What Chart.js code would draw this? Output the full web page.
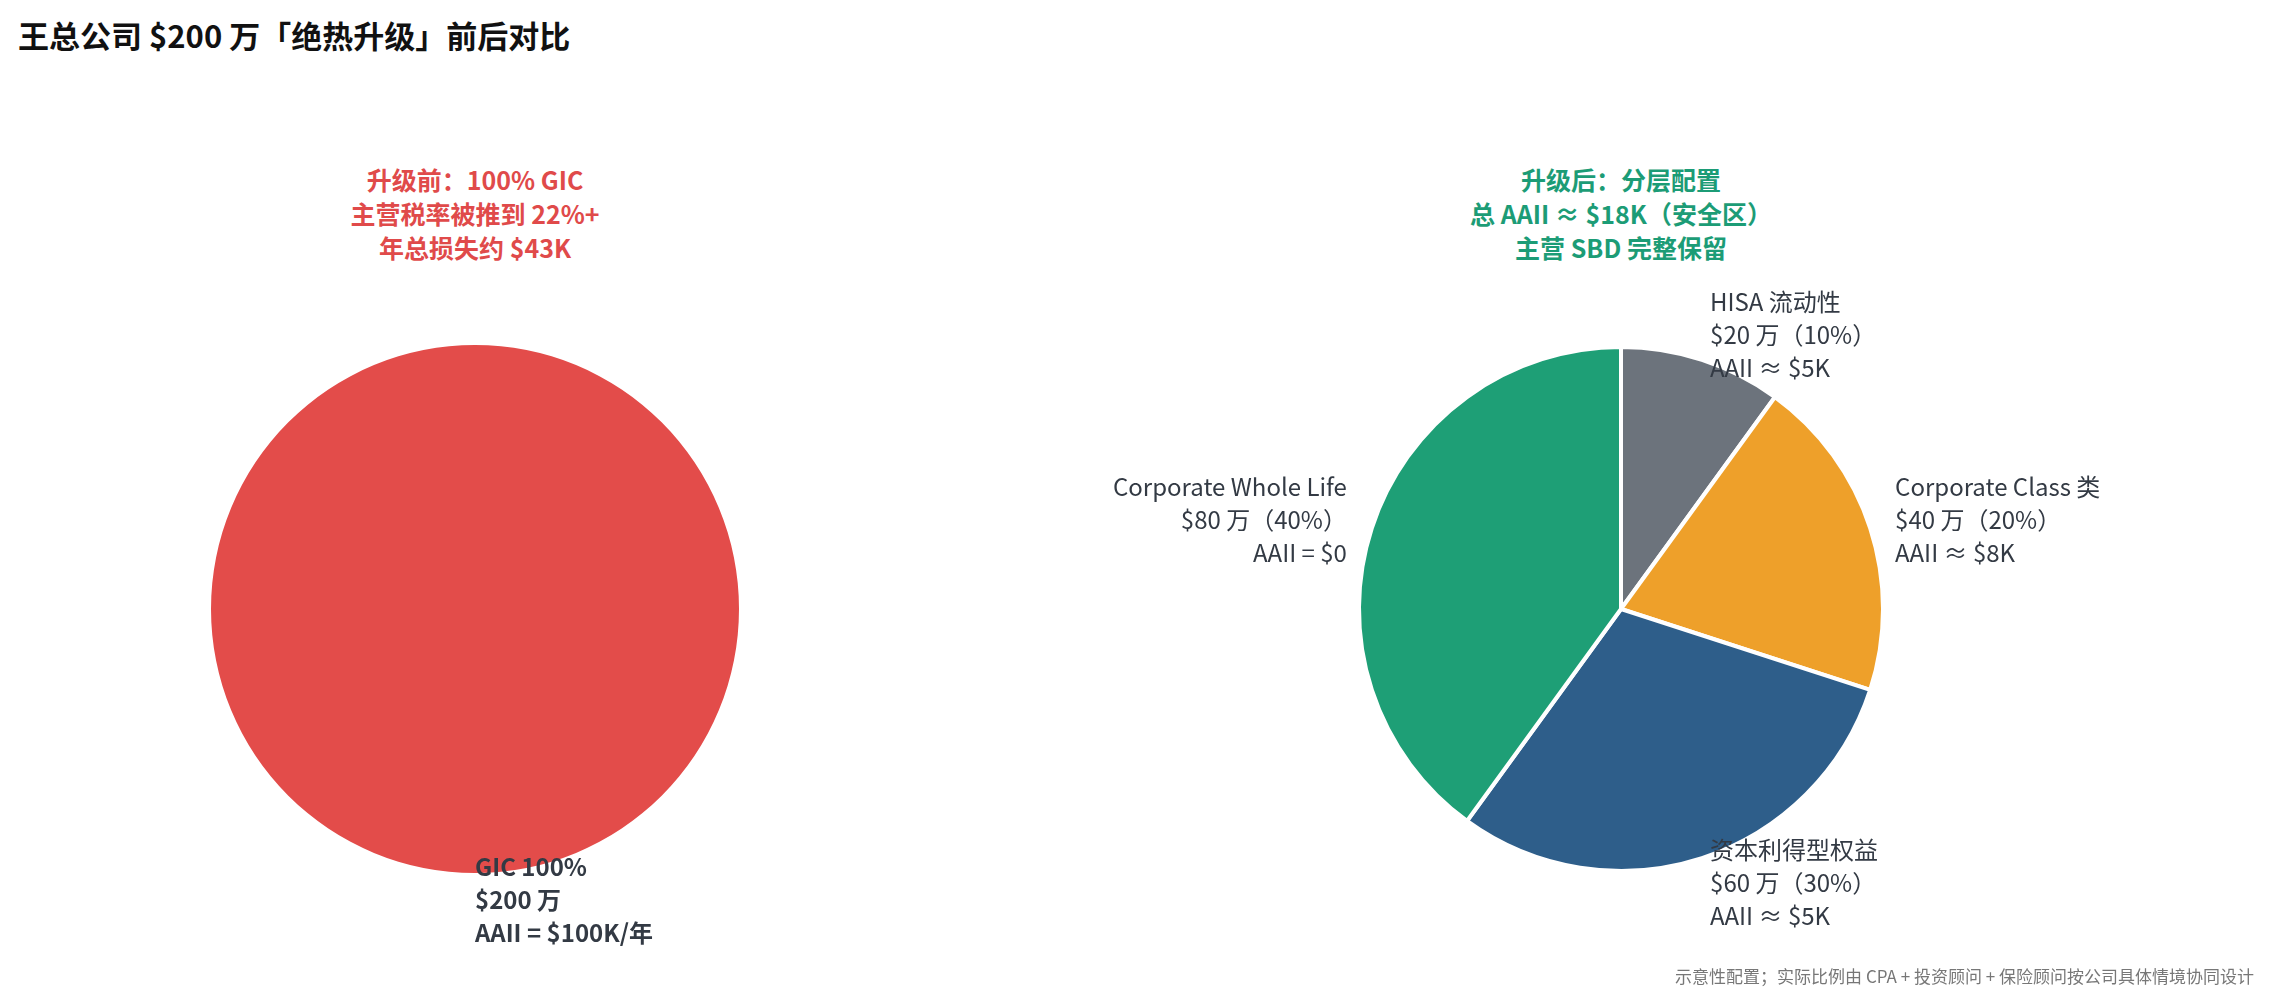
<!DOCTYPE html>
<html><head><meta charset="utf-8">
<script src="https://cdn.jsdelivr.net/npm/chart.js@4"></script>
<style>
body{margin:0;width:2273px;height:1006px;background:#fff;position:relative;overflow:hidden;font-family:"Noto Sans CJK SC","Noto Sans",sans-serif;}
#title{position:absolute;left:18px;top:12px;font-size:31px;font-weight:bold;color:#111;}
.sub{position:absolute;top:162px;width:800px;text-align:center;font-size:25px;font-weight:bold;line-height:34px;}
#foot{position:absolute;right:19px;top:963px;font-size:17px;color:#777;}
.cv{position:absolute;top:245px;height:728px;}
</style></head><body>
<div id="title">王总公司 $200 万「绝热升级」前后对比</div>
<div class="sub" style="left:75px;color:#e04a4a">升级前：100% GIC<br>主营税率被推到 22%+<br>年总损失约 $43K</div>
<div class="sub" style="left:1221px;color:#1c9c76">升级后：分层配置<br>总 AAII ≈ $18K（安全区）<br>主营 SBD 完整保留</div>
<div class="cv" style="left:0;width:950px"><canvas id="c1"></canvas></div>
<div class="cv" style="left:1000px;width:1242px"><canvas id="c2"></canvas></div>
<div id="foot">示意性配置；实际比例由 CPA + 投资顾问 + 保险顾问按公司具体情境协同设计</div>
<script>
const beforeCategories=["GIC"];
const beforeValues=[100];
const beforeLabels=[["GIC 100%","$200 万","AAII = $100K/年"]];
const afterCategories=["HISA 流动性","Corporate Class 类","资本利得型权益","Corporate Whole Life"];
const afterValues=[10,20,30,40];
const afterLabels=[["HISA 流动性","$20 万（10%）","AAII ≈ $5K"],["Corporate Class 类","$40 万（20%）","AAII ≈ $8K"],["资本利得型权益","$60 万（30%）","AAII ≈ $5K"],["Corporate Whole Life","$80 万（40%）","AAII = $0"]];

const labelPlugin={id:'lbl',afterDraw(chart){
  const ctx=chart.ctx,o=chart.options.plugins.lbl;
  chart.getDatasetMeta(0).data.forEach((arc,i)=>{
    const mid=(arc.startAngle+arc.endAngle)/2,r=arc.outerRadius*1.1;
    const x=arc.x+Math.cos(mid)*r,y=arc.y+Math.sin(mid)*r;
    const lines=o.lines[i];
    ctx.save();
    ctx.font=(o.bold?'bold ':'')+'24px "Noto Sans CJK SC","Noto Sans",sans-serif';
    ctx.fillStyle='#333a44';
    ctx.textAlign=Math.cos(mid)>=-0.01?'left':'right';
    ctx.textBaseline='middle';
    const lh=33,y0=y-(lines.length-1)*lh/2;
    lines.forEach((t,k)=>ctx.fillText(t,x,y0+k*lh));
    ctx.restore();
  });
}};
function mk(id,cats,vals,colors,bw,lines,bold){
  new Chart(document.getElementById(id),{type:'pie',
    data:{labels:cats,datasets:[{data:vals,backgroundColor:colors,borderColor:'#fff',borderWidth:bw}]},
    options:{responsive:true,maintainAspectRatio:false,animation:false,
      layout:{padding:100},
      plugins:{legend:{display:false},tooltip:{enabled:false},lbl:{lines,bold}}},
    plugins:[labelPlugin]});
}
mk('c1',beforeCategories,beforeValues,['#e34c4a'],0,beforeLabels,true);
mk('c2',afterCategories,afterValues,['#6c737c','#eea02a','#2e5e8a','#1e9f76'],4,afterLabels,false);
</script></body></html>
